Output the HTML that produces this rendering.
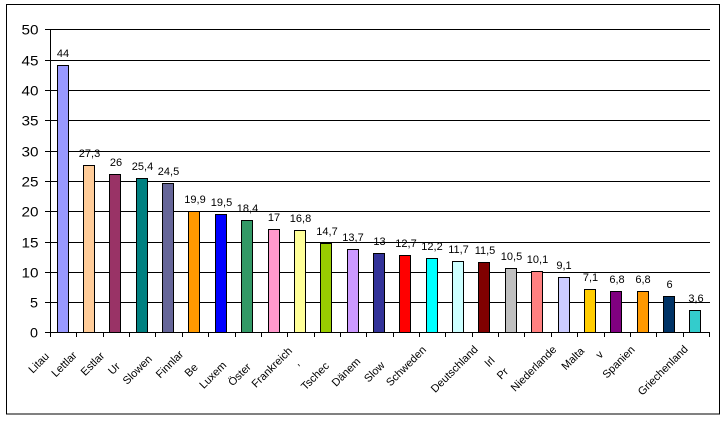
<!DOCTYPE html>
<html><head><meta charset="utf-8"><style>
html,body{margin:0;padding:0;background:#fff;}
svg{display:block;}
text{font-family:"Liberation Sans",Arial,sans-serif;fill:#000;}
</style></head><body>
<svg width="727" height="422" viewBox="0 0 727 422" xmlns="http://www.w3.org/2000/svg">
<rect x="0" y="0" width="727" height="422" fill="#fff"/>
<rect x="6.5" y="4.5" width="713" height="409.5" fill="none" stroke="#000" stroke-width="1"/>
<!-- gridlines -->
<g stroke="#000" stroke-width="1">
<line x1="45" y1="29.5" x2="710" y2="29.5"/>
<line x1="45" y1="60.5" x2="710" y2="60.5"/>
<line x1="45" y1="90.5" x2="710" y2="90.5"/>
<line x1="45" y1="120.5" x2="710" y2="120.5"/>
<line x1="45" y1="151.5" x2="710" y2="151.5"/>
<line x1="45" y1="181.5" x2="710" y2="181.5"/>
<line x1="45" y1="211.5" x2="710" y2="211.5"/>
<line x1="45" y1="242.5" x2="710" y2="242.5"/>
<line x1="45" y1="272.5" x2="710" y2="272.5"/>
<line x1="45" y1="302.5" x2="710" y2="302.5"/>
<line x1="45" y1="332.5" x2="710" y2="332.5"/>
<line x1="50.5" y1="29" x2="50.5" y2="337"/>
</g>
<!-- x ticks -->
<g stroke="#000" stroke-width="1">
<line x1="76.5" y1="332" x2="76.5" y2="337"/>
<line x1="103.5" y1="332" x2="103.5" y2="337"/>
<line x1="129.5" y1="332" x2="129.5" y2="337"/>
<line x1="155.5" y1="332" x2="155.5" y2="337"/>
<line x1="182.5" y1="332" x2="182.5" y2="337"/>
<line x1="208.5" y1="332" x2="208.5" y2="337"/>
<line x1="235.5" y1="332" x2="235.5" y2="337"/>
<line x1="261.5" y1="332" x2="261.5" y2="337"/>
<line x1="287.5" y1="332" x2="287.5" y2="337"/>
<line x1="314.5" y1="332" x2="314.5" y2="337"/>
<line x1="340.5" y1="332" x2="340.5" y2="337"/>
<line x1="366.5" y1="332" x2="366.5" y2="337"/>
<line x1="393.5" y1="332" x2="393.5" y2="337"/>
<line x1="419.5" y1="332" x2="419.5" y2="337"/>
<line x1="445.5" y1="332" x2="445.5" y2="337"/>
<line x1="472.5" y1="332" x2="472.5" y2="337"/>
<line x1="498.5" y1="332" x2="498.5" y2="337"/>
<line x1="524.5" y1="332" x2="524.5" y2="337"/>
<line x1="551.5" y1="332" x2="551.5" y2="337"/>
<line x1="577.5" y1="332" x2="577.5" y2="337"/>
<line x1="604.5" y1="332" x2="604.5" y2="337"/>
<line x1="630.5" y1="332" x2="630.5" y2="337"/>
<line x1="656.5" y1="332" x2="656.5" y2="337"/>
<line x1="683.5" y1="332" x2="683.5" y2="337"/>
<line x1="709.5" y1="332" x2="709.5" y2="337"/>
</g>
<!-- y labels -->
<g font-size="14" text-anchor="end">
<text x="38.5" y="34.5" textLength="17" lengthAdjust="spacingAndGlyphs">50</text>
<text x="38.5" y="65.5" textLength="17" lengthAdjust="spacingAndGlyphs">45</text>
<text x="38.5" y="95.5" textLength="17" lengthAdjust="spacingAndGlyphs">40</text>
<text x="38.5" y="125.5" textLength="17" lengthAdjust="spacingAndGlyphs">35</text>
<text x="38.5" y="156.5" textLength="17" lengthAdjust="spacingAndGlyphs">30</text>
<text x="38.5" y="186.5" textLength="17" lengthAdjust="spacingAndGlyphs">25</text>
<text x="38.5" y="216.5" textLength="17" lengthAdjust="spacingAndGlyphs">20</text>
<text x="38.5" y="247.5" textLength="17" lengthAdjust="spacingAndGlyphs">15</text>
<text x="38.5" y="277.5" textLength="17" lengthAdjust="spacingAndGlyphs">10</text>
<text x="38" y="307.5" textLength="8" lengthAdjust="spacingAndGlyphs">5</text>
<text x="38" y="337.5" textLength="8" lengthAdjust="spacingAndGlyphs">0</text>
</g>
<!-- bars -->
<g stroke="#000" stroke-width="1">
<rect x="57.5" y="65.5" width="11" height="267" fill="#9999FF"/>
<rect x="83.5" y="165.5" width="11" height="167" fill="#FFCC99"/>
<rect x="109.5" y="174.5" width="11" height="158" fill="#993366"/>
<rect x="136.5" y="178.5" width="11" height="154" fill="#008080"/>
<rect x="162.5" y="183.5" width="11" height="149" fill="#666699"/>
<rect x="188.5" y="211.5" width="11" height="121" fill="#FF9900"/>
<rect x="215.5" y="214.5" width="11" height="118" fill="#0000FF"/>
<rect x="241.5" y="220.5" width="11" height="112" fill="#339966"/>
<rect x="268.5" y="229.5" width="11" height="103" fill="#FF99CC"/>
<rect x="294.5" y="230.5" width="11" height="102" fill="#FFFF99"/>
<rect x="320.5" y="243.5" width="11" height="89" fill="#99CC00"/>
<rect x="347.5" y="249.5" width="11" height="83" fill="#CC99FF"/>
<rect x="373.5" y="253.5" width="11" height="79" fill="#333399"/>
<rect x="399.5" y="255.5" width="11" height="77" fill="#FF0000"/>
<rect x="426.5" y="258.5" width="11" height="74" fill="#00FFFF"/>
<rect x="452.5" y="261.5" width="11" height="71" fill="#CCFFFF"/>
<rect x="478.5" y="262.5" width="11" height="70" fill="#800000"/>
<rect x="505.5" y="268.5" width="11" height="64" fill="#C0C0C0"/>
<rect x="531.5" y="271.5" width="11" height="61" fill="#FF8080"/>
<rect x="558.5" y="277.5" width="11" height="55" fill="#CCCCFF"/>
<rect x="584.5" y="289.5" width="11" height="43" fill="#FFCC00"/>
<rect x="610.5" y="291.5" width="11" height="41" fill="#800080"/>
<rect x="637.5" y="291.5" width="11" height="41" fill="#FF9900"/>
<rect x="663.5" y="296.5" width="11" height="36" fill="#003366"/>
<rect x="689.5" y="310.5" width="11" height="22" fill="#33CCCC"/>
</g>
<!-- value labels -->
<g font-size="11" text-anchor="middle">
<text x="63" y="57">44</text>
<text x="89.5" y="157">27,3</text>
<text x="116" y="166">26</text>
<text x="142.5" y="170">25,4</text>
<text x="168.5" y="175">24,5</text>
<text x="195" y="203">19,9</text>
<text x="221.5" y="206">19,5</text>
<text x="247.5" y="212">18,4</text>
<text x="274" y="221">17</text>
<text x="300.5" y="222">16,8</text>
<text x="327" y="235">14,7</text>
<text x="353" y="241">13,7</text>
<text x="379.5" y="245">13</text>
<text x="406" y="247">12,7</text>
<text x="432" y="250">12,2</text>
<text x="458.5" y="253">11,7</text>
<text x="485" y="254">11,5</text>
<text x="511.5" y="260">10,5</text>
<text x="537.5" y="263">10,1</text>
<text x="564" y="269">9,1</text>
<text x="590.5" y="281">7,1</text>
<text x="617" y="283">6,8</text>
<text x="643" y="283">6,8</text>
<text x="669.5" y="288">6</text>
<text x="696" y="302">3,6</text>
</g>
<!-- category labels -->
<g font-size="11" text-anchor="middle" dominant-baseline="central">
<text transform="translate(39.2,363.3) rotate(-45)">Litau</text>
<text transform="translate(64.5,364.7) rotate(-45)">Lettlar</text>
<text transform="translate(93,364.3) rotate(-45)">Estlar</text>
<text transform="translate(114.5,369) rotate(-45)">Ur</text>
<text transform="translate(137.8,370.3) rotate(-45)">Slowen</text>
<text transform="translate(170,364.7) rotate(-45)">Finnlar</text>
<text transform="translate(191.7,370.5) rotate(-45)">Be</text>
<text transform="translate(213.3,375.5) rotate(-45)">Luxem</text>
<text transform="translate(240,375) rotate(-45)">Öster</text>
<text transform="translate(272.3,367.8) rotate(-45)">Frankreich</text>
<text transform="translate(296.7,363) rotate(-45)">,</text>
<text transform="translate(315.5,376.5) rotate(-45)">Tschec</text>
<text transform="translate(346.5,372.5) rotate(-45)">Dänem</text>
<text transform="translate(374.8,372.3) rotate(-45)">Slow</text>
<text transform="translate(406.5,366.5) rotate(-45)">Schweden</text>
<text transform="translate(454.8,369.5) rotate(-45)">Deutschland</text>
<text transform="translate(490,362.3) rotate(-45)">Irl</text>
<text transform="translate(503,374) rotate(-45)">Pr</text>
<text transform="translate(534,369) rotate(-45)">Niederlande</text>
<text transform="translate(573.3,359) rotate(-45)">Malta</text>
<text transform="translate(600,355) rotate(-45)">v</text>
<text transform="translate(619,362.5) rotate(-45)">Spanien</text>
<text transform="translate(663.3,370.8) rotate(-45)">Griechenland</text>
</g>
</svg>
</body></html>
